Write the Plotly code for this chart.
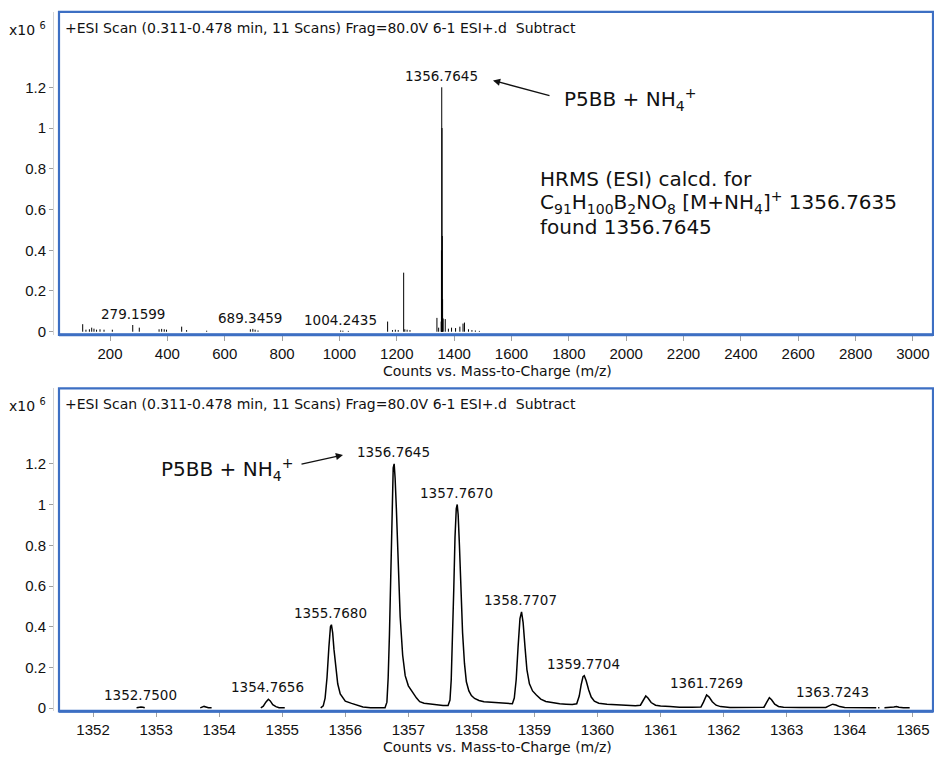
import plotly.graph_objects as go

# ---------------- data ----------------
# Top panel: full-range spectrum (sticks), intensity in x10^6 counts
stick_mz = [104.6, 116, 128, 136, 144, 153, 165, 179, 208,
            279.16, 302, 371, 380, 389, 397, 449.8, 467, 537,
            689.35, 698, 706, 716, 1004.24, 1012, 1031,
            1168, 1185, 1195, 1205, 1224, 1228, 1236, 1246,
            1340, 1346, 1354.77, 1355.77, 1356.76, 1357.77, 1358.77, 1359.77,
            1361.73, 1369, 1380, 1391, 1405, 1420, 1431, 1436, 1450, 1462, 1474, 1488]
stick_int = [0.037, 0.01, 0.012, 0.02, 0.015, 0.01, 0.012, 0.01, 0.01,
             0.033, 0.02, 0.012, 0.014, 0.012, 0.01, 0.025, 0.008, 0.005,
             0.012, 0.014, 0.01, 0.006, 0.006, 0.005, 0.004,
             0.05, 0.008, 0.01, 0.008, 0.29, 0.012, 0.01, 0.008,
             0.068, 0.02, 0.05, 0.40, 1.20, 1.00, 0.47, 0.16,
             0.065, 0.062, 0.015, 0.02, 0.018, 0.025, 0.04, 0.045, 0.012, 0.008, 0.006, 0.004]

# Bottom panel: zoomed profile spectrum (None = gap in the data)
prof_mz = [1352.69, 1352.72, 1352.76, 1352.79, 1352.82, None,
           1353.70, 1353.73, 1353.76, 1353.79, 1353.83, 1353.88, None,
           1354.66, 1354.70, 1354.74, 1354.78, 1354.81, 1354.85, 1354.90, 1354.95, 1355.04, None,
           1355.61, 1355.65, 1355.68, 1355.71, 1355.74, 1355.765, 1355.78, 1355.80, 1355.82, 1355.85,
           1355.88, 1355.92, 1355.97, 1356.00, 1356.10, 1356.20, 1356.28, 1356.40, 1356.55, 1356.63,
           1356.66, 1356.68, 1356.70, 1356.72, 1356.74, 1356.76, 1356.775, 1356.79, 1356.81, 1356.84,
           1356.87, 1356.91, 1356.95, 1357.00, 1357.05, 1357.09, 1357.13, 1357.18, 1357.25, 1357.35,
           1357.45, 1357.55, 1357.63,
           1357.66, 1357.68, 1357.70, 1357.72, 1357.74, 1357.76, 1357.775, 1357.79, 1357.81, 1357.83,
           1357.86, 1357.89, 1357.92, 1357.96, 1358.00, 1358.05, 1358.12, 1358.20, 1358.30, 1358.40,
           1358.50, 1358.60, 1358.65,
           1358.68, 1358.71, 1358.74, 1358.77, 1358.795, 1358.82, 1358.85, 1358.88, 1358.92, 1358.97,
           1359.03, 1359.10, 1359.18, 1359.28, 1359.40, 1359.50, 1359.60, 1359.67,
           1359.71, 1359.74, 1359.77, 1359.79, 1359.82, 1359.86, 1359.90, 1359.95, 1360.02, 1360.15,
           1360.30, 1360.45, 1360.60, 1360.68,
           1360.72, 1360.765, 1360.80, 1360.85, 1360.92, 1361.00, 1361.15, 1361.30, 1361.50, 1361.64,
           1361.68, 1361.73, 1361.77, 1361.82, 1361.88, 1361.95, 1362.10, 1362.30, 1362.50, 1362.64,
           1362.68, 1362.725, 1362.76, 1362.81, 1362.87, 1362.95, 1363.20, 1363.45, 1363.62,
           1363.67, 1363.73, 1363.78, 1363.84, 1363.92, 1364.10, 1364.30, 1364.42, None,
           1364.45, 1364.47, None,
           1364.55, 1364.65, 1364.70, 1364.74, 1364.78, 1364.85, 1364.95]
prof_int = [0.002, 0.005, 0.006, 0.005, 0.002, None,
            0.002, 0.005, 0.009, 0.006, 0.002, 0.002, None,
            0.002, 0.010, 0.030, 0.044, 0.036, 0.018, 0.008, 0.003, 0.003, None,
            0.002, 0.012, 0.050, 0.150, 0.300, 0.400, 0.410, 0.370, 0.290, 0.190,
            0.120, 0.070, 0.045, 0.035, 0.024, 0.014, 0.006, 0.003, 0.003, 0.003,
            0.030, 0.150, 0.360, 0.650, 0.980, 1.180, 1.200, 1.130, 0.980, 0.700,
            0.450, 0.260, 0.160, 0.110, 0.085, 0.070, 0.050, 0.032, 0.025, 0.021,
            0.017, 0.014, 0.014,
            0.040, 0.140, 0.320, 0.580, 0.840, 0.980, 1.000, 0.950, 0.800, 0.600,
            0.370, 0.220, 0.130, 0.085, 0.062, 0.048, 0.038, 0.032, 0.029, 0.026,
            0.023, 0.020, 0.022,
            0.050, 0.140, 0.300, 0.440, 0.473, 0.420, 0.300, 0.190, 0.120, 0.085,
            0.065, 0.045, 0.033, 0.027, 0.022, 0.020, 0.018, 0.022,
            0.060, 0.115, 0.155, 0.160, 0.135, 0.090, 0.055, 0.035, 0.025, 0.020,
            0.017, 0.014, 0.012, 0.015,
            0.038, 0.060, 0.050, 0.028, 0.015, 0.011, 0.008, 0.005, 0.005, 0.006,
            0.030, 0.065, 0.055, 0.032, 0.015, 0.008, 0.004, 0.004, 0.004, 0.005,
            0.028, 0.052, 0.042, 0.020, 0.009, 0.005, 0.004, 0.004, 0.004,
            0.012, 0.020, 0.016, 0.008, 0.004, 0.003, 0.003, 0.003, None,
            0.003, 0.003, None,
            0.003, 0.003, 0.006, 0.009, 0.005, 0.003, 0.003]

top_labels = ["279.1599", "689.3459", "1004.2435", "1356.7645"]
top_label_h = [0.033, 0.014, 0.006, 1.20]
bot_labels = ["1352.7500", "1354.7656", "1355.7680", "1356.7645", "1357.7670",
              "1358.7707", "1359.7704", "1361.7269", "1363.7243"]
bot_label_h = [0.006, 0.044, 0.41, 1.20, 1.00, 0.473, 0.16, 0.065, 0.02]

top_xticks = list(range(200, 3001, 200))
bot_xticks = list(range(1352, 1366))
y_ticks = [0, 0.2, 0.4, 0.6, 0.8, 1.0, 1.2]
y_tick_text = ["0", "0.2", "0.4", "0.6", "0.8", "1", "1.2"]

header = "+ESI Scan (0.311-0.478 min, 11 Scans) Frag=80.0V 6-1 ESI+.d  Subtract"
x_title = "Counts vs. Mass-to-Charge (m/z)"

# ---------------- figure ----------------
W, H = 934, 762
TICKFONT = "Liberation Sans, Arial, Helvetica, sans-serif"
TXT = "DejaVu Sans, Verdana, sans-serif"
BLUE = "#3d6fc3"
TICKC = "#a0a0a0"
INK = "#111"


def px(x):
    return x / W


def py(y):
    return 1 - y / H


sx, sy = [], []
for m, h in zip(stick_mz, stick_int):
    sx += [m, m, None]
    sy += [0, h, None]

fig = go.Figure()
fig.add_trace(go.Scatter(x=sx, y=sy, mode="lines", line=dict(color="black", width=1),
                         xaxis="x", yaxis="y", hoverinfo="skip", showlegend=False))
fig.add_trace(go.Scatter(x=prof_mz, y=prof_int, mode="lines", connectgaps=False,
                         line=dict(color="black", width=1.5),
                         xaxis="x2", yaxis="y2", hoverinfo="skip", showlegend=False))

xdom = [px(59), px(933)]
ax_common = dict(showgrid=False, zeroline=False, showline=False, ticks="outside",
                 ticklen=5, tickwidth=1, tickcolor=TICKC,
                 tickfont=dict(family=TICKFONT, size=15, color=INK))
y_common = dict(showgrid=False, zeroline=False, showline=True, linecolor="#d4d4d4", linewidth=1,
                ticks="outside", ticklen=4, tickwidth=1, tickcolor=TICKC,
                tickvals=y_ticks, ticktext=y_tick_text, range=[-0.015, 1.57],
                tickfont=dict(family=TICKFONT, size=15, color=INK))

fig.update_layout(
    width=W, height=H, margin=dict(l=0, r=0, t=0, b=0),
    paper_bgcolor="white", plot_bgcolor="white",
    font=dict(family=TXT, color=INK),
    xaxis=dict(domain=xdom, anchor="y", range=[22, 3070], tickvals=top_xticks, **ax_common),
    yaxis=dict(domain=[py(337), py(12)], anchor="free", position=px(53), **y_common),
    xaxis2=dict(domain=xdom, anchor="y2", range=[1351.46, 1365.32], tickvals=bot_xticks, **ax_common),
    yaxis2=dict(domain=[py(716), py(391)], anchor="free", position=px(53), **y_common),
)

# frames
for xr, yr in [("x domain", "y domain"), ("x2 domain", "y2 domain")]:
    fig.add_shape(type="rect", xref=xr, yref=yr, x0=0, x1=1, y0=0, y1=1,
                  line=dict(color=BLUE, width=2.2), fillcolor="rgba(0,0,0,0)", layer="above")
    fig.add_shape(type="line", xref=xr, yref=yr, x0=0, x1=1, y0=0, y1=0,
                  line=dict(color=BLUE, width=3), layer="above")

ann = []
for yc_head, yc_title in [(28, 373), (407, 752)]:
    ann.append(dict(xref="paper", yref="paper", x=px(63), y=py(yc_head), xanchor="left", yanchor="middle",
                    text=header, showarrow=False, font=dict(family=TXT, size=14, color=INK)))
    ann.append(dict(xref="paper", yref="paper", x=px(48), y=py(yc_head + 1), xanchor="right", yanchor="middle",
                    text="x10 <sup>6</sup>", showarrow=False, font=dict(family=TXT, size=14, color=INK)))
    ann.append(dict(xref="paper", yref="paper", x=px(497), y=py(yc_title), xanchor="center", yanchor="middle",
                    text=x_title, showarrow=False, font=dict(family=TXT, size=14, color=INK)))

for lab, h in zip(top_labels, top_label_h):
    ann.append(dict(xref="x", yref="y", x=float(lab), y=h, xanchor="center", yanchor="bottom", yshift=1,
                    text=lab, showarrow=False, font=dict(family=TXT, size=13.5, color=INK)))
for lab, h in zip(bot_labels, bot_label_h):
    ann.append(dict(xref="x2", yref="y2", x=float(lab), y=h, xanchor="center", yanchor="bottom", yshift=2,
                    text=lab, showarrow=False, font=dict(family=TXT, size=13.5, color=INK)))

ion = "P5BB + NH<sub>4</sub><sup>+</sup>"
big = dict(family=TXT, size=20, color=INK)
# top panel
ann.append(dict(xref="paper", yref="paper", x=px(562), y=py(100), xanchor="left", yanchor="middle",
                text=ion, showarrow=False, font=big))
ann.append(dict(xref="paper", yref="paper", x=px(493), y=py(81), ax=60, ay=16, text=" ",
                showarrow=True, arrowhead=2, arrowsize=1.1, arrowwidth=1.3, arrowcolor=INK))
hr_lines = ["HRMS (ESI) calcd. for",
            "C<sub>91</sub>H<sub>100</sub>B<sub>2</sub>NO<sub>8</sub> [M+NH<sub>4</sub>]<sup>+</sup> 1356.7635",
            "found 1356.7645"]
for i, t in enumerate(hr_lines):
    ann.append(dict(xref="paper", yref="paper", x=px(538), y=py(180 + 24 * i), xanchor="left", yanchor="middle",
                    text=t, showarrow=False, font=big))
# bottom panel
ann.append(dict(xref="paper", yref="paper", x=px(159), y=py(473), xanchor="left", yanchor="middle",
                text=ion, showarrow=False, font=big))
ann.append(dict(xref="paper", yref="paper", x=px(343), y=py(458), ax=-45, ay=10, text=" ",
                showarrow=True, arrowhead=2, arrowsize=1.1, arrowwidth=1.3, arrowcolor=INK))

fig.update_layout(annotations=ann)

fig.write_html("out.html", config={"displayModeBar": False})
